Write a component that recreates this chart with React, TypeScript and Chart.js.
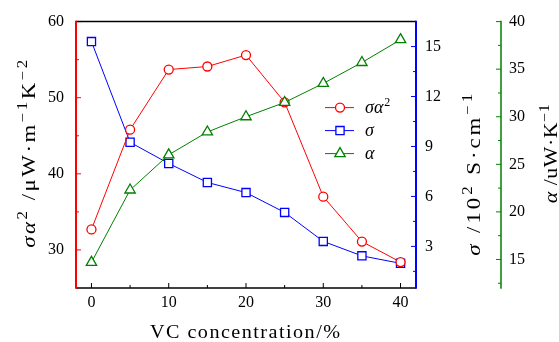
import React, { useEffect, useRef } from "react";
import { Chart, registerables } from "chart.js";

Chart.register(...registerables);

// ---- data ----
const concentration = [0, 5, 10, 15, 20, 25, 30, 35, 40];
const powerFactor = [32.7, 45.8, 53.7, 54.1, 55.6, 49.4, 37.0, 31.1, 28.4];
const conductivity = [15.3, 9.25, 7.98, 6.84, 6.23, 5.04, 3.3, 2.43, 1.98];
const seebeck = [14.7, 22.3, 26.0, 28.4, 30.0, 31.5, 33.5, 35.7, 38.1];

// ---- ticks ----
const xTicks = [0, 10, 20, 30, 40];
const xMinorTicks = [5, 15, 25, 35];
const pfTicks = [30, 40, 50, 60];
const pfMinorTicks = [35, 45, 55];
const sigmaTicks = [3, 6, 9, 12, 15];
const sigmaMinorTicks = [1.5, 4.5, 7.5, 10.5, 13.5];
const alphaTicks = [15, 20, 25, 30, 35, 40];
const alphaMinorTicks = [12.5, 17.5, 22.5, 27.5, 32.5, 37.5];

const RED = "#ff0000";
const BLUE = "#0000ff";
const GREEN = "#008000";
const FAMILY = "'Liberation Serif', 'DejaVu Serif', serif";

type Part = { text: string; italic?: boolean; sup?: boolean };

function drawRich(
  ctx: CanvasRenderingContext2D,
  parts: Part[],
  x: number,
  y: number,
  size: number,
  rotate: boolean,
  length: number,
  stretch: number
) {
  ctx.save();
  ctx.translate(x, y);
  if (rotate) ctx.rotate(-Math.PI / 2);
  ctx.scale(stretch, 1);
  const fontFor = (p: Part) =>
    `${p.italic ? "italic " : ""}${p.sup ? Math.round(size * 0.72) : size}px ${FAMILY}`;
  const chars: { ch: string; p: Part; w: number }[] = [];
  parts.forEach((p) => {
    ctx.font = fontFor(p);
    Array.from(p.text).forEach((ch) => chars.push({ ch, p, w: ctx.measureText(ch).width }));
  });
  const total = chars.reduce((a, c) => a + c.w, 0);
  const target = length / stretch;
  const spacing = Math.max(0, (target - total) / Math.max(1, chars.length - 1));
  const full = total + spacing * (chars.length - 1);
  let cx = -full / 2;
  ctx.textAlign = "left";
  ctx.textBaseline = "alphabetic";
  ctx.fillStyle = "#000";
  chars.forEach((c) => {
    ctx.font = fontFor(c.p);
    ctx.fillText(c.ch, cx, c.p.sup ? -size * 0.4 : 0);
    cx += c.w + spacing;
  });
  ctx.restore();
}

function drawMarker(ctx: CanvasRenderingContext2D, style: string, x: number, y: number, r: number) {
  ctx.beginPath();
  if (style === "circle") {
    ctx.arc(x, y, r, 0, Math.PI * 2);
  } else if (style === "rect") {
    const s = Math.SQRT1_2 * r;
    ctx.rect(x - s, y - s, 2 * s, 2 * s);
  } else {
    ctx.moveTo(x, y - r);
    ctx.lineTo(x + r * Math.sin(Math.PI / 3), y + r * 0.5);
    ctx.lineTo(x - r * Math.sin(Math.PI / 3), y + r * 0.5);
    ctx.closePath();
  }
  ctx.fillStyle = "#fff";
  ctx.fill();
  ctx.stroke();
}

const framePlugin = {
  id: "frame",
  beforeDatasetsDraw(chart: any) {
    const { ctx, chartArea } = chart;
    const { left, right, top, bottom } = chartArea;
    const xs = chart.scales.x;
    const ys = chart.scales.y;
    const y1 = chart.scales.y1;
    const y2 = chart.scales.y2;
    ctx.save();
    ctx.lineCap = "butt";
    const seg = (x1: number, yA: number, x2: number, yB: number, c: string, w: number) => {
      ctx.beginPath();
      ctx.strokeStyle = c;
      ctx.lineWidth = w;
      ctx.moveTo(x1, yA);
      ctx.lineTo(x2, yB);
      ctx.stroke();
    };
    xTicks.forEach((v) => { const p = xs.getPixelForValue(v); seg(p, bottom, p, bottom - 5, "#000", 1); });
    xMinorTicks.forEach((v) => { const p = xs.getPixelForValue(v); seg(p, bottom, p, bottom - 3, "#000", 1); });
    pfTicks.forEach((v) => { const p = ys.getPixelForValue(v); seg(left, p, left + 5, p, RED, 1); });
    pfMinorTicks.forEach((v) => { const p = ys.getPixelForValue(v); seg(left, p, left + 3, p, RED, 1); });
    sigmaTicks.forEach((v) => { const p = y1.getPixelForValue(v); seg(right, p, right - 5, p, BLUE, 1); });
    sigmaMinorTicks.forEach((v) => { const p = y1.getPixelForValue(v); seg(right, p, right - 3, p, BLUE, 1); });
    const gx = y2.left;
    alphaTicks.forEach((v) => { const p = y2.getPixelForValue(v); seg(gx, p, gx - 5, p, GREEN, 1); });
    alphaMinorTicks.forEach((v) => { const p = y2.getPixelForValue(v); seg(gx, p, gx - 3, p, GREEN, 1); });
    seg(left, top, right, top, "#000", 1.5);
    seg(left, bottom, right, bottom, "#000", 1.5);
    seg(left, top - 0.75, left, bottom + 0.75, RED, 2);
    seg(right, top - 0.75, right, bottom + 0.75, BLUE, 2);
    seg(gx, top - 0.75, gx, bottom + 0.75, GREEN, 1.5);
    ctx.restore();
  },
  afterDraw(chart: any) {
    const { ctx, chartArea } = chart;
    const { left, right, top, bottom } = chartArea;
    const y1 = chart.scales.y1;
    const y2 = chart.scales.y2;
    drawRich(ctx, [{ text: "VC concentration/%" }], (left + right) / 2 - 1, bottom + 50, 18, false, 190, 1.12);
    drawRich(
      ctx,
      [
        { text: "σα", italic: true },
        { text: "2", sup: true },
        { text: " /μW·m" },
        { text: "−1", sup: true },
        { text: "K" },
        { text: "−2", sup: true },
      ],
      left - 41,
      (top + bottom) / 2 - 1,
      19,
      true,
      188,
      1.2
    );
    drawRich(
      ctx,
      [
        { text: "σ", italic: true },
        { text: " /10" },
        { text: "2", sup: true },
        { text: " S·cm" },
        { text: "−1", sup: true },
      ],
      y1.left + 64,
      (top + bottom) / 2 + 20,
      19,
      true,
      162,
      1.2
    );
    drawRich(
      ctx,
      [
        { text: "α", italic: true },
        { text: " /uW·K" },
        { text: "−1", sup: true },
      ],
      y2.left + 56,
      (top + bottom) / 2 - 1,
      19,
      true,
      99,
      1.15
    );
    const entries = [
      { color: RED, style: "circle", r: 4.5, label: [{ text: "σα", italic: true }, { text: "2", sup: true }] },
      { color: BLUE, style: "rect", r: 5.8, label: [{ text: "σ", italic: true }] },
      { color: GREEN, style: "triangle", r: 6, label: [{ text: "α", italic: true }] },
    ];
    const lx = right - 76;
    entries.forEach((e, i) => {
      const ly = top + 86 + i * 23;
      ctx.save();
      ctx.strokeStyle = e.color;
      ctx.lineWidth = 1;
      ctx.beginPath();
      ctx.moveTo(lx - 15, ly);
      ctx.lineTo(lx + 14, ly);
      ctx.stroke();
      ctx.lineWidth = 1.3;
      drawMarker(ctx, e.style, lx, ly, e.r);
      ctx.restore();
      ctx.save();
      let cx = lx + 25;
      ctx.fillStyle = "#000";
      ctx.textBaseline = "alphabetic";
      ctx.textAlign = "left";
      e.label.forEach((p: Part) => {
        const size = p.sup ? 12 : 18;
        ctx.font = `${p.italic ? "italic " : ""}${size}px ${FAMILY}`;
        ctx.fillText(p.text, cx, ly + 5 + (p.sup ? -7 : 0));
        cx += ctx.measureText(p.text).width + (p.italic ? 1 : 0);
      });
      ctx.restore();
    });
  },
};

const tickFont = { family: FAMILY, size: 16 };
const setTicks = (arr: number[]) => (scale: any) => {
  scale.ticks = arr.map((v) => ({ value: v }));
};
const noGrid = { display: false, drawTicks: false, tickLength: 0 };

export default function App() {
  const ref = useRef<HTMLCanvasElement | null>(null);
  useEffect(() => {
    document.body.style.margin = "0";
    const canvas = ref.current;
    if (!canvas) return;
    const toPts = (ys: number[]) => concentration.map((x, i) => ({ x, y: ys[i] }));
    const chart = new Chart(canvas, {
      type: "line",
      data: {
        datasets: [
          {
            label: "σα²",
            data: toPts(powerFactor),
            yAxisID: "y",
            borderColor: RED,
            borderWidth: 1,
            pointStyle: "circle",
            pointRadius: 4.5,
            pointBorderWidth: 1.3,
            pointBackgroundColor: "#fff",
            pointBorderColor: RED,
            order: 1,
          },
          {
            label: "σ",
            data: toPts(conductivity),
            yAxisID: "y1",
            borderColor: BLUE,
            borderWidth: 1,
            pointStyle: "rect",
            pointRadius: 5.8,
            pointBorderWidth: 1.3,
            pointBackgroundColor: "#fff",
            pointBorderColor: BLUE,
            order: 2,
          },
          {
            label: "α",
            data: toPts(seebeck),
            yAxisID: "y2",
            borderColor: GREEN,
            borderWidth: 1,
            pointStyle: "triangle",
            pointRadius: 6,
            pointBorderWidth: 1.3,
            pointBackgroundColor: "#fff",
            pointBorderColor: GREEN,
            order: 0,
          },
        ],
      },
      options: {
        responsive: false,
        animation: false,
        devicePixelRatio: 1,
        layout: { padding: { top: 18, left: 0, right: 0, bottom: 0 } },
        plugins: { legend: { display: false }, tooltip: { enabled: false } },
        scales: {
          x: {
            type: "linear",
            min: -2,
            max: 42,
            grid: noGrid,
            border: { display: false },
            ticks: { font: tickFont, color: "#000", padding: 5 },
            afterBuildTicks: setTicks(xTicks),
            afterFit: (s: any) => { s.height = 54; },
          },
          y: {
            type: "linear",
            position: "left",
            min: 25,
            max: 60,
            grid: noGrid,
            border: { display: false },
            ticks: { font: tickFont, color: "#000", padding: 12 },
            afterBuildTicks: setTicks(pfTicks),
            afterFit: (s: any) => { s.width = 76; },
          },
          y1: {
            type: "linear",
            position: "right",
            min: 0.5,
            max: 16.5,
            grid: noGrid,
            border: { display: false },
            ticks: { font: tickFont, color: "#000", padding: 9 },
            afterBuildTicks: setTicks(sigmaTicks),
            afterFit: (s: any) => { s.width = 85; },
          },
          y2: {
            type: "linear",
            position: "right",
            min: 12,
            max: 40,
            grid: noGrid,
            border: { display: false },
            ticks: { font: tickFont, color: "#000", padding: 8 },
            afterBuildTicks: setTicks(alphaTicks),
            afterFit: (s: any) => { s.width = 58; },
          },
        },
      } as any,
      plugins: [framePlugin],
    });
    return () => chart.destroy();
  }, []);
  return (
    <div style={{ width: 559, height: 342 }}>
      <canvas ref={ref} width={559} height={342} />
    </div>
  );
}
